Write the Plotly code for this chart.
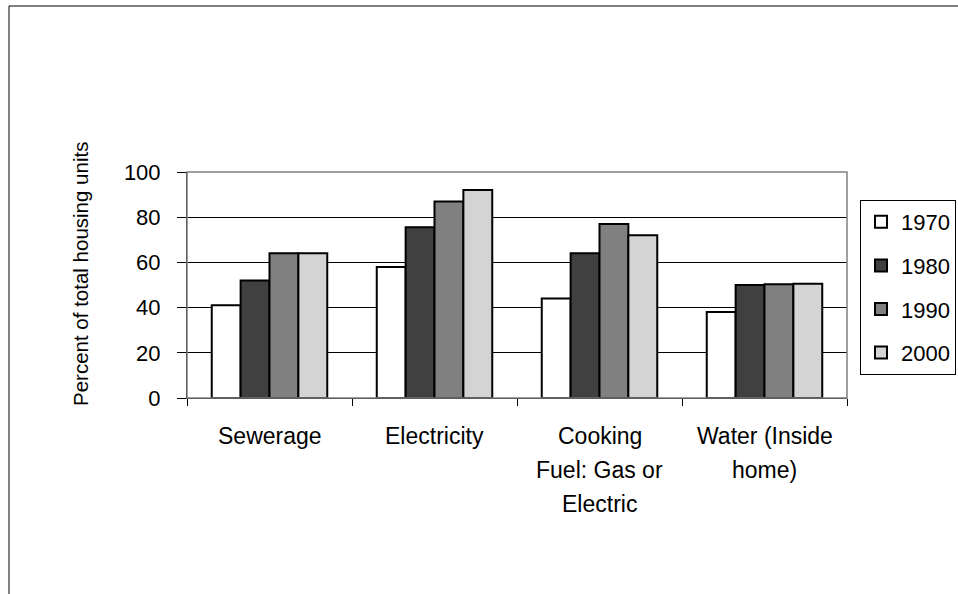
import plotly.graph_objects as go

categories = ["Sewerage", "Electricity", "Cooking Fuel: Gas or Electric", "Water (Inside home)"]
category_lines = [["Sewerage"], ["Electricity"], ["Cooking", "Fuel: Gas or", "Electric"], ["Water (Inside", "home)"]]
years = ["1970", "1980", "1990", "2000"]
values_1970 = [41, 58, 44, 38]
values_1980 = [52, 75.5, 64, 50]
values_1990 = [64, 87, 77, 50.3]
values_2000 = [64, 92, 72, 50.5]
series = [values_1970, values_1980, values_1990, values_2000]
colors = ["#ffffff", "#404040", "#808080", "#d4d4d4"]

FONT = "Liberation Sans, Arial, sans-serif"
W, H = 958, 594
L, R, T, B = 187, 111, 172, 196
pw, ph = W - L - R, H - T - B


def px_x(x):
    return (x - L) / pw


def px_y(y):
    return (H - B - y) / ph


fig = go.Figure()
for i, (yr, vals) in enumerate(zip(years, series)):
    fig.add_trace(go.Bar(
        x=categories, y=vals, name=yr,
        marker=dict(color=colors[i], line=dict(color="#000000", width=2)),
        legendgroup=yr,
    ))

annotations = []
for cat, lines in zip(categories, category_lines):
    for j, line in enumerate(lines):
        annotations.append(dict(
            x=cat, xref="x", y=0, yref="paper", yanchor="middle",
            yshift=-38 - 34 * j, text=line, showarrow=False,
            font=dict(family=FONT, size=23, color="#000000"),
        ))

annotations.append(dict(
    x=px_x(80), xref="paper", y=px_y(274), yref="paper",
    text="Percent of total housing units", textangle=-90, showarrow=False,
    xanchor="center", yanchor="middle",
    font=dict(family=FONT, size=20.5, color="#000000"),
))

shapes = [
    # outer chart frame
    dict(type="rect", xref="paper", yref="paper",
         x0=px_x(9), x1=px_x(970), y0=px_y(610), y1=px_y(6),
         line=dict(color="#000000", width=1), layer="below"),
    # plot area border
    dict(type="rect", xref="paper", yref="paper", x0=0, x1=1, y0=0, y1=1,
         line=dict(color="#808080", width=1.5), layer="above"),
]

fig.update_layout(
    width=W, height=H,
    margin=dict(l=L, r=R, t=T, b=B, pad=0, autoexpand=False),
    paper_bgcolor="#ffffff", plot_bgcolor="#ffffff",
    barmode="group", bargap=0.3, bargroupgap=0,
    font=dict(family=FONT, size=22, color="#000000"),
    showlegend=True,
    legend=dict(
        x=px_x(860), xanchor="left", y=px_y(200), yanchor="top",
        bordercolor="#000000", borderwidth=1, bgcolor="#ffffff",
        font=dict(family=FONT, size=22, color="#000000"),
        traceorder="grouped", tracegroupgap=12, itemwidth=30,
    ),
    xaxis=dict(
        showticklabels=False, tickson="boundaries", ticks="outside",
        ticklen=7, tickcolor="#000000", showline=True, linecolor="#000000",
        linewidth=1, showgrid=False, zeroline=False,
    ),
    yaxis=dict(
        range=[0, 100], tickvals=[0, 20, 40, 60, 80, 100],
        ticks="outside", ticklen=9, tickcolor="#000000",
        showline=True, linecolor="#000000", linewidth=1,
        showgrid=True, gridcolor="#000000", gridwidth=1, zeroline=False,
        ticklabelstandoff=12,
        tickfont=dict(family=FONT, size=22, color="#000000"),
    ),
    annotations=annotations,
    shapes=shapes,
)

fig.write_html("out.html")
